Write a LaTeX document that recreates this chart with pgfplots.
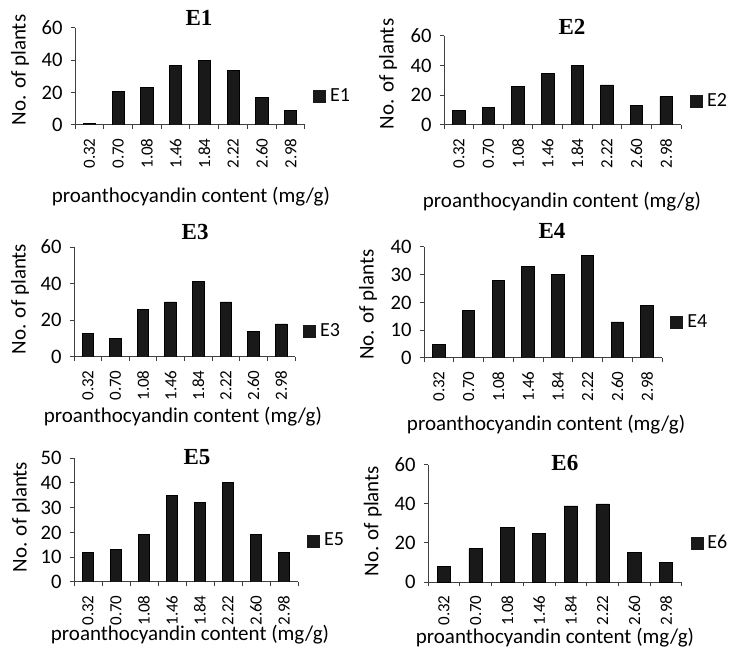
\documentclass[border=0pt]{standalone}
\usepackage{fontspec}
\setmainfont{Carlito}
\newfontfamily\titlefont{Liberation Serif}
\usepackage{pgfplots}
\pgfplotsset{compat=1.18}

% one reference pixel = 0.5pt
\pgfplotsset{
  panel/.style={
    scale only axis,
    ybar,
    bar width=0.42,
    axis x line*=bottom,
    axis y line*=left,
    axis line style={black!75, line width=0.5pt},
    xmin=0.5, xmax=8.5,
    ymin=0,
    xtick={1,...,8},
    xticklabels={0.32,0.70,1.08,1.46,1.84,2.22,2.60,2.98},
    minor xtick={0.5,1.5,...,8.5},
    major x tick style={draw=none},
    minor x tick style={black!75, line width=0.5pt},
    y tick style={black!75, line width=0.5pt},
    tick align=outside,
    major tick length=2.2pt,
    minor tick length=2.2pt,
    xticklabel style={rotate=90, anchor=east, font=\fontsize{8.5}{10}\selectfont, xshift=-1pt},
    yticklabel style={font=\fontsize{10.3}{11}\selectfont, xshift=-0.5pt},
    /pgf/number format/assume math mode=true,
    ylabel={No. of plants},
    xlabel={proanthocyandin content (mg/g)},
    label style={font=\fontsize{10.5}{12}\selectfont},
    % the default title style shifts up by 6pt: cancel it
    title style={font=\titlefont\bfseries\fontsize{11.5}{12}\selectfont, anchor=center, yshift=-6pt},
    legend style={draw=none, fill=none, inner sep=0pt, anchor=west,
      font=\fontsize{10}{11}\selectfont},
    legend image code/.code={\fill[black!90] (0pt,-3pt) rectangle (6pt,3pt);},
    cycle list={{fill=black!90, draw=black!70, line width=0.2pt}},
  }
}

\begin{document}
\begin{tikzpicture}
\useasboundingbox (0,0) rectangle (365.5pt,331pt);

% E1
\begin{axis}[panel, at={(37.5pt,268.5pt)}, anchor=south west,
  width=115pt, height=48.5pt, ymax=60, ytick={0,20,40,60},
  title={E1}, title style={at={(axis description cs:0.539,1.103)}},
  ylabel style={at={(axis description cs:-0.239,0.567)}, anchor=center},
  xlabel style={at={(axis description cs:0.504,-0.742)}, anchor=center},
  legend style={at={(axis description cs:1.035,0.29)}}]
\addplot coordinates {(1,1) (2,21) (3,23) (4,37) (5,40) (6,34) (7,17) (8,9)};
\addlegendentry{E1}
\end{axis}

% E2
\begin{axis}[panel, at={(222pt,268.5pt)}, anchor=south west,
  width=118.5pt, height=44.5pt, ymax=60, ytick={0,20,40,60},
  title={E2}, title style={at={(axis description cs:0.54,1.10)}},
  ylabel style={at={(axis description cs:-0.236,0.573)}, anchor=center},
  xlabel style={at={(axis description cs:0.498,-0.865)}, anchor=center},
  legend style={at={(axis description cs:1.038,0.26)}}]
\addplot coordinates {(1,10) (2,12) (3,26) (4,35) (5,40) (6,27) (7,13) (8,19)};
\addlegendentry{E2}
\end{axis}

% E3
\begin{axis}[panel, at={(37pt,152.5pt)}, anchor=south west,
  width=110.5pt, height=55pt, ymax=60, ytick={0,20,40,60},
  title={E3}, title style={at={(axis description cs:0.548,1.136)}},
  ylabel style={at={(axis description cs:-0.244,0.527)}, anchor=center},
  xlabel style={at={(axis description cs:0.493,-0.545)}, anchor=center},
  legend style={at={(axis description cs:1.036,0.23)}}]
\addplot coordinates {(1,13) (2,10) (3,26) (4,30) (5,41) (6,30) (7,14) (8,18)};
\addlegendentry{E3}
\end{axis}

% E4
\begin{axis}[panel, at={(212pt,152pt)}, anchor=south west,
  width=119pt, height=55.5pt, ymax=40, ytick={0,10,20,30,40},
  title={E4}, title style={at={(axis description cs:0.538,1.144)}},
  ylabel style={at={(axis description cs:-0.235,0.48)}, anchor=center},
  xlabel style={at={(axis description cs:0.513,-0.604)}, anchor=center},
  legend style={at={(axis description cs:1.034,0.32)}}]
\addplot coordinates {(1,5) (2,17) (3,28) (4,33) (5,30) (6,37) (7,13) (8,19)};
\addlegendentry{E4}
\end{axis}

% E5
\begin{axis}[panel, at={(37pt,40pt)}, anchor=south west,
  width=112pt, height=62pt, ymax=50, ytick={0,10,20,30,40,50},
  title={E5}, title style={at={(axis description cs:0.549,1.008)}},
  ylabel style={at={(axis description cs:-0.237,0.524)}, anchor=center},
  xlabel style={at={(axis description cs:0.518,-0.427)}, anchor=center},
  legend style={at={(axis description cs:1.04,0.33)}}]
\addplot coordinates {(1,12) (2,13) (3,19) (4,35) (5,32) (6,40) (7,19) (8,12)};
\addlegendentry{E5}
\end{axis}

% E6
\begin{axis}[panel, at={(214pt,40pt)}, anchor=south west,
  width=127pt, height=58.5pt, ymax=60, ytick={0,20,40,60},
  title={E6}, title style={at={(axis description cs:0.539,1.017)}},
  ylabel style={at={(axis description cs:-0.217,0.52)}, anchor=center},
  xlabel style={at={(axis description cs:0.5,-0.479)}, anchor=center},
  legend style={at={(axis description cs:1.032,0.33)}}]
\addplot coordinates {(1,8) (2,17) (3,28) (4,25) (5,39) (6,40) (7,15) (8,10)};
\addlegendentry{E6}
\end{axis}
\end{tikzpicture}
\end{document}
